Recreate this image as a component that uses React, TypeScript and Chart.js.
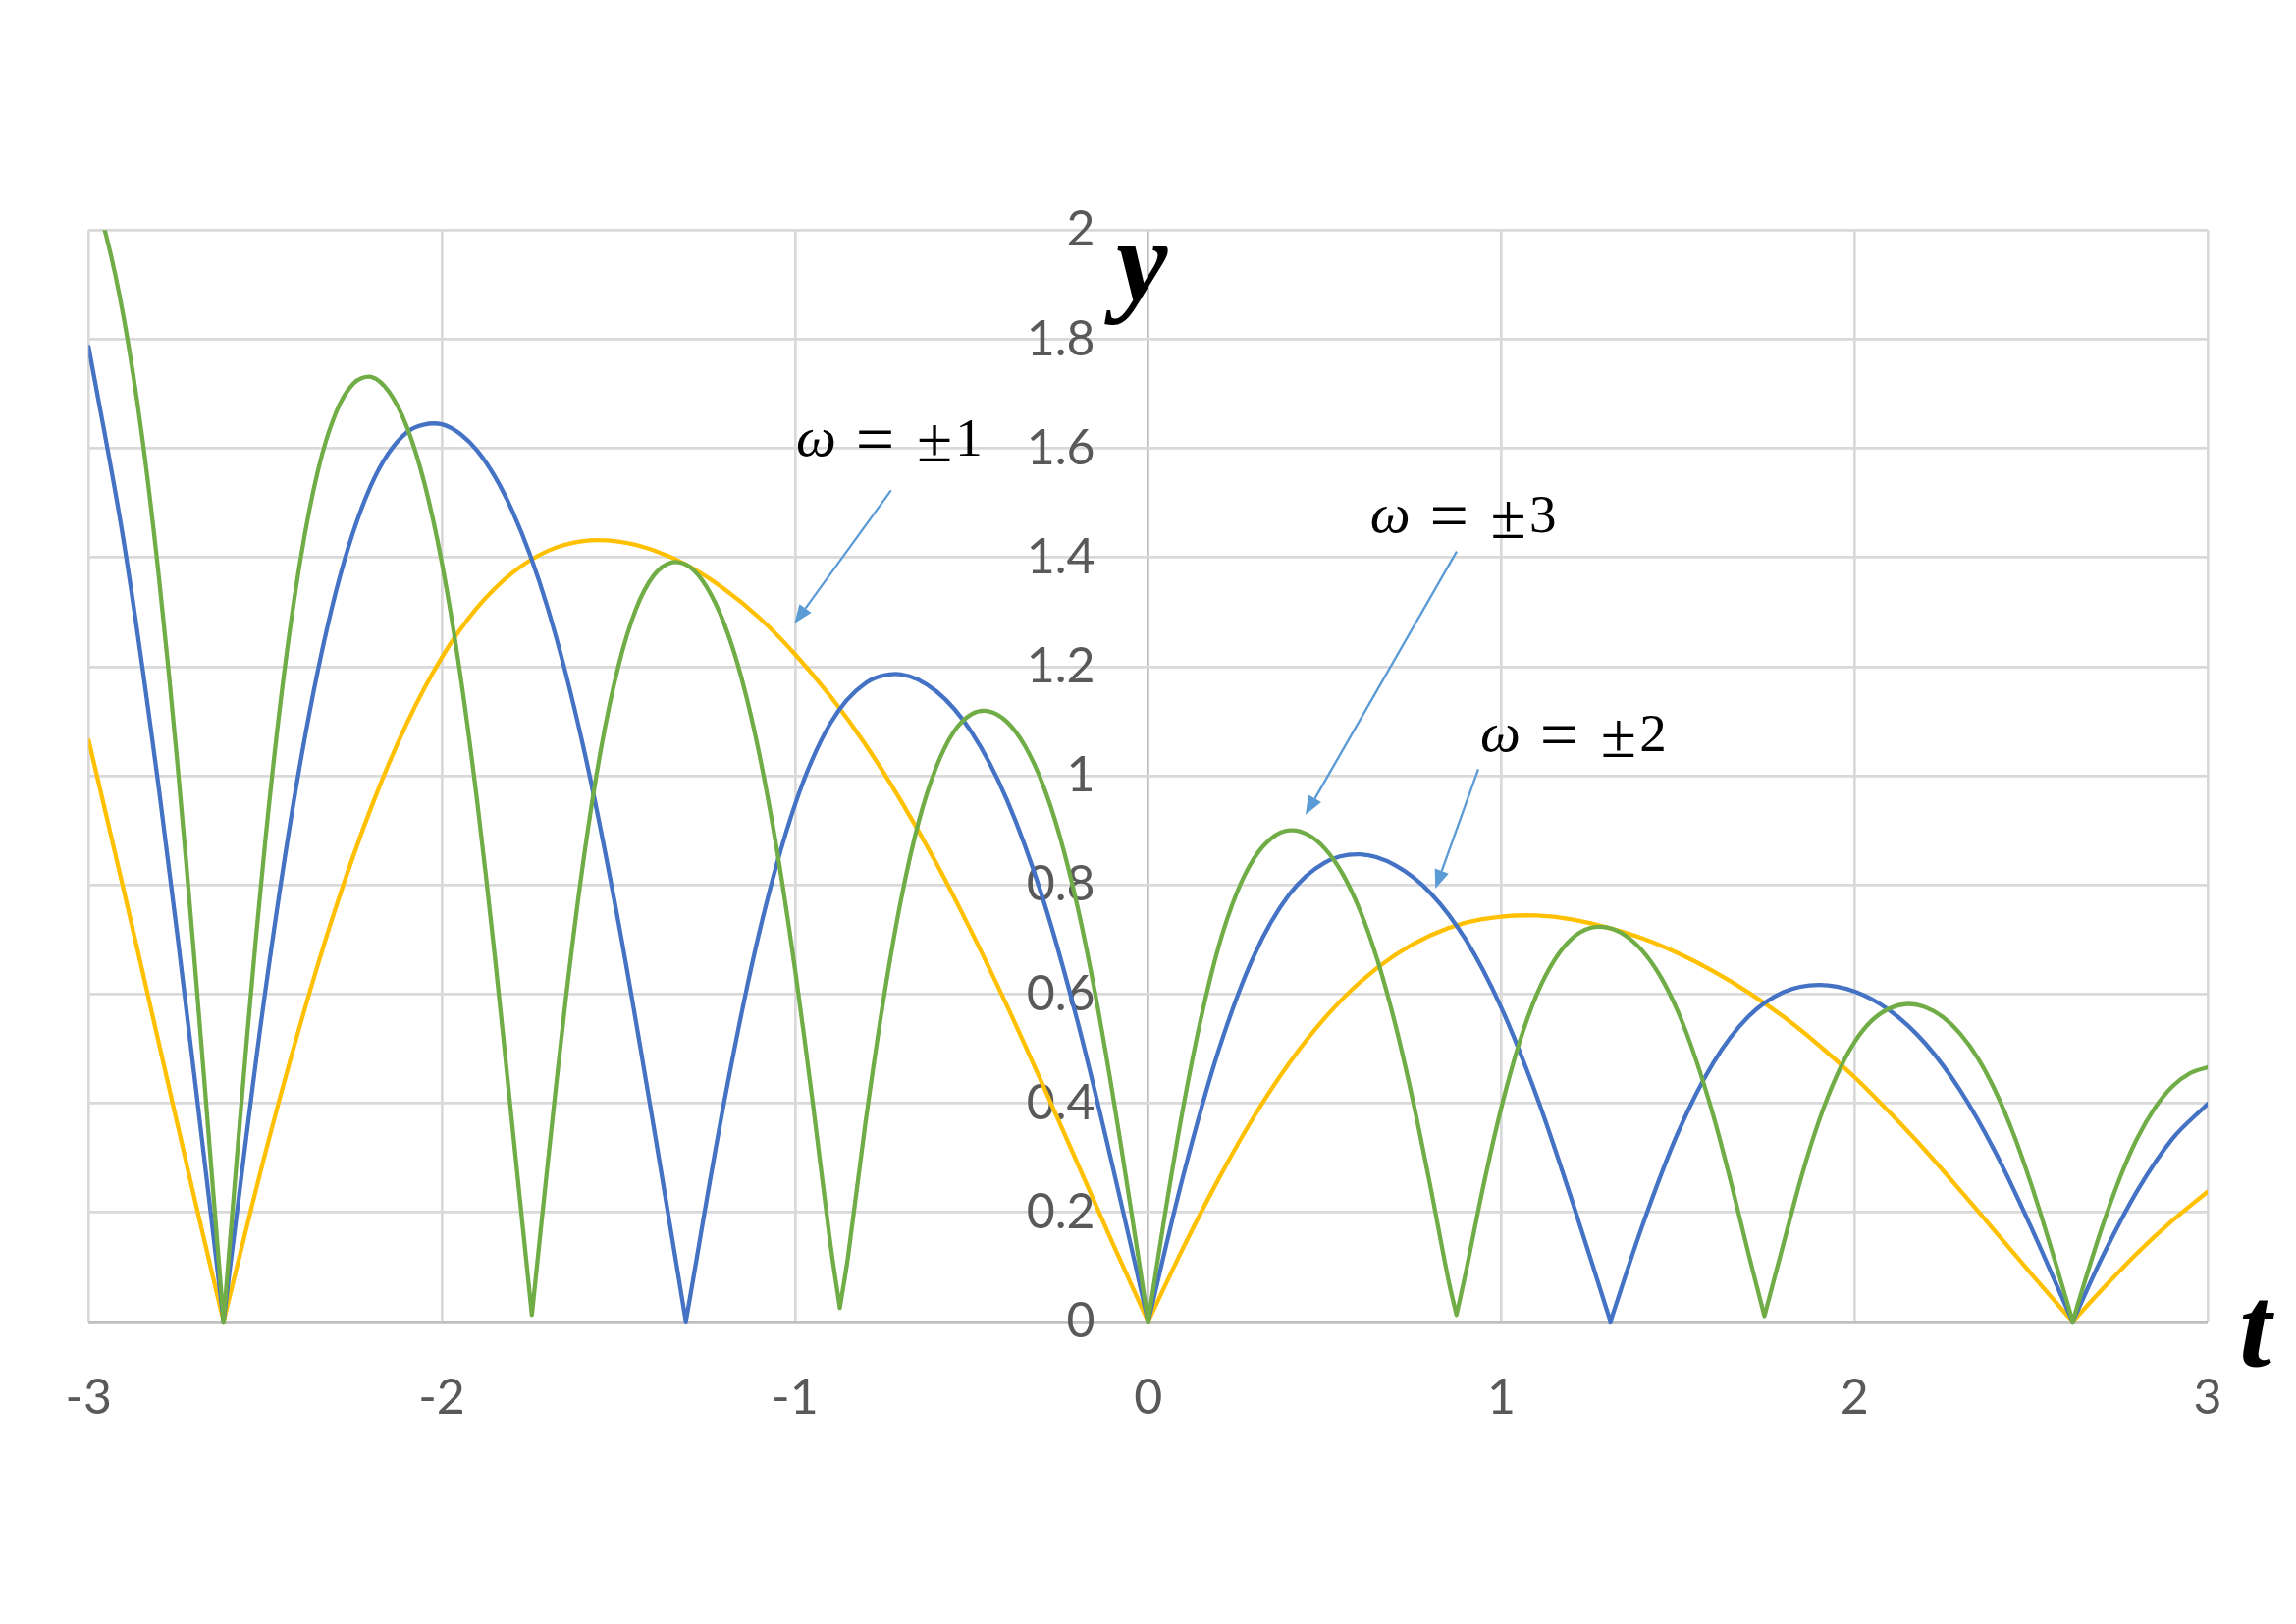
import React, { useEffect, useRef } from 'react';
import { Chart, registerables } from 'chart.js';

Chart.register(...registerables);

// ---- data ----
const T_COARSE = [
  -3, -2.9, -2.8, -2.7, -2.6, -2.5, -2.4, -2.3, -2.2, -2.1, -2, -1.9, -1.8, -1.7, -1.6, -1.5,
  -1.4, -1.3, -1.2, -1.1, -1, -0.9, -0.8, -0.7, -0.6, -0.5, -0.4, -0.3, -0.2, -0.1, 0,
  0.1, 0.2, 0.3, 0.4, 0.5, 0.6, 0.7, 0.8, 0.9, 1, 1.1, 1.2, 1.3, 1.4, 1.5, 1.6, 1.7, 1.8,
  1.9, 2, 2.1, 2.2, 2.3, 2.4, 2.5, 2.6, 2.7, 2.8, 2.9, 3,
];

const T_FINE = [
  -3, -2.95, -2.9, -2.85, -2.8, -2.75, -2.7, -2.65, -2.6, -2.55, -2.5, -2.45, -2.4, -2.35,
  -2.3, -2.25, -2.2, -2.15, -2.1, -2.05, -2, -1.95, -1.9, -1.85, -1.8, -1.75, -1.7, -1.65,
  -1.6, -1.55, -1.5, -1.45, -1.4, -1.35, -1.3, -1.25, -1.2, -1.15, -1.1, -1.05, -1, -0.95,
  -0.9, -0.85, -0.8, -0.75, -0.7, -0.65, -0.6, -0.55, -0.5, -0.45, -0.4, -0.35, -0.3, -0.25,
  -0.2, -0.15, -0.1, -0.05, 0, 0.05, 0.1, 0.15, 0.2, 0.25, 0.3, 0.35, 0.4, 0.45, 0.5, 0.55,
  0.6, 0.65, 0.7, 0.75, 0.8, 0.85, 0.9, 0.95, 1, 1.05, 1.1, 1.15, 1.2, 1.25, 1.3, 1.35, 1.4,
  1.45, 1.5, 1.55, 1.6, 1.65, 1.7, 1.75, 1.8, 1.85, 1.9, 1.95, 2, 2.05, 2.1, 2.15, 2.2, 2.25,
  2.3, 2.35, 2.4, 2.45, 2.5, 2.55, 2.6, 2.65, 2.7, 2.75, 2.8, 2.85, 2.9, 2.95, 3,
];

// omega = ±1 (yellow), on T_COARSE
const Y_OMEGA1 = [
  1.065, 0.789, 0.507, 0.225, 0.048, 0.308, 0.546, 0.759, 0.942, 1.095, 1.217, 1.308, 1.372,
  1.412, 1.43, 1.429, 1.413, 1.384, 1.342, 1.289, 1.223, 1.146, 1.057, 0.954, 0.84, 0.714,
  0.579, 0.436, 0.29, 0.143, 0, 0.136, 0.262, 0.376, 0.474, 0.556, 0.622, 0.672, 0.708,
  0.731, 0.742, 0.744, 0.737, 0.722, 0.702, 0.675, 0.642, 0.603, 0.558, 0.506, 0.448, 0.383,
  0.314, 0.24, 0.164, 0.088, 0.013, 0.058, 0.125, 0.185, 0.238,
];

// omega = ±2 (blue), on T_COARSE
const Y_OMEGA2 = [
  1.786, 1.427, 0.971, 0.447, 0.097, 0.604, 1.026, 1.337, 1.533, 1.629, 1.644, 1.596, 1.485,
  1.307, 1.055, 0.732, 0.357, 0.035, 0.404, 0.716, 0.947, 1.096, 1.17, 1.186, 1.155, 1.08,
  0.956, 0.779, 0.55, 0.283, 0, 0.269, 0.498, 0.671, 0.783, 0.841, 0.856, 0.836, 0.785,
  0.699, 0.575, 0.413, 0.222, 0.018, 0.177, 0.346, 0.474, 0.559, 0.604, 0.617, 0.605, 0.57,
  0.51, 0.423, 0.309, 0.173, 0.026, 0.116, 0.239, 0.335, 0.399,
];

// omega = ±3 (green), on T_FINE
const Y_OMEGA3 = [
  2.09, 1.989, 1.837, 1.628, 1.358, 1.032, 0.66, 0.26, 0.145, 0.532, 0.879, 1.17, 1.397,
  1.561, 1.665, 1.719, 1.731, 1.704, 1.641, 1.538, 1.391, 1.196, 0.954, 0.67, 0.357, 0.031,
  0.29, 0.585, 0.84, 1.047, 1.201, 1.306, 1.367, 1.391, 1.384, 1.346, 1.278, 1.176, 1.037,
  0.86, 0.646, 0.403, 0.144, 0.118, 0.366, 0.587, 0.772, 0.915, 1.016, 1.081, 1.113, 1.118,
  1.099, 1.056, 0.987, 0.889, 0.76, 0.601, 0.415, 0.211, 0, 0.206, 0.395, 0.557, 0.688,
  0.784, 0.849, 0.886, 0.9, 0.893, 0.867, 0.821, 0.753, 0.661, 0.544, 0.404, 0.245, 0.077,
  0.092, 0.251, 0.392, 0.509, 0.599, 0.662, 0.702, 0.721, 0.722, 0.708, 0.679, 0.633, 0.568,
  0.482, 0.378, 0.256, 0.124, 0.013, 0.145, 0.266, 0.369, 0.451, 0.512, 0.552, 0.574, 0.582,
  0.576, 0.558, 0.527, 0.482, 0.421, 0.344, 0.252, 0.149, 0.04, 0.069, 0.171, 0.261, 0.335,
  0.391, 0.431, 0.455, 0.466,
];

// cusp (minimum) points of each curve: [t, y]
const CUSPS_OMEGA1 = [[-2.618, 0], [0, 0], [2.618, 0]];
const CUSPS_OMEGA2 = [[-2.618, 0], [-1.309, 0], [0, 0], [1.309, 0], [2.618, 0]];
const CUSPS_OMEGA3 = [
  [-2.618, 0], [-1.745, 0.012], [-0.873, 0.025], [0, 0], [0.873, 0.012], [1.745, 0.01], [2.618, 0],
];

const SERIES_LABELS = ['ω = ±1', 'ω = ±2', 'ω = ±3'];
const SERIES_DIGITS = ['1', '2', '3'];

// ---- annotation placement (data units) ----
const LABEL_POS = [
  { t: -0.994, v: 1.587 },
  { t: 0.943, v: 1.045 },
  { t: 0.631, v: 1.446 },
];
const ARROW_POS = [
  { from: [-0.728, 1.523], to: [-1.0015, 1.279] },
  { from: [0.9348, 1.0123], to: [0.8134, 0.7934] },
  { from: [0.8737, 1.411], to: [0.4457, 0.9287] },
];
const TITLE_Y_POS = { t: -0.018, v: 1.871 };
const TITLE_T_POS = { t: 3.135, v: -0.083 };

// ---- styles ----
const COLORS = { w1: '#FFC000', w2: '#4472C4', w3: '#70AD47' };
const GRID = '#D9D9D9';
const AXIS = '#BFBFBF';
const TICK_COLOR = '#595959';
const ARROW_COLOR = '#5B9BD5';
const TICK_FONT = { family: 'Lato', size: 50 };
const X_AXIS_H = 120;

function buildSeries(ts, ys, cusps) {
  const pts = [];
  ts.forEach((t, i) => {
    if (cusps.some((c) => Math.abs(c[0] - t) < 0.0105)) return;
    pts.push({ x: t, y: ys[i] });
  });
  cusps.forEach((c) => {
    pts.push({ x: c[0], y: c[1] });
    pts.push({ x: c[0], y: c[1] });
  });
  pts.sort((a, b) => a.x - b.x);
  return pts;
}

const fmt = (v) => String(Math.round(Number(v) * 10) / 10);

const annotationPlugin = {
  id: 'annotations',
  afterDraw(chart) {
    const { ctx } = chart;
    const xs = chart.scales.x;
    const ys = chart.scales.y;
    const px = (t) => xs.getPixelForValue(t);
    const py = (v) => ys.getPixelForValue(v);
    ctx.save();
    // arrows
    ARROW_POS.forEach((a) => {
      const x1 = px(a.from[0]);
      const y1 = py(a.from[1]);
      const x2 = px(a.to[0]);
      const y2 = py(a.to[1]);
      const ang = Math.atan2(y2 - y1, x2 - x1);
      const headLen = 19;
      const headHalf = 7.5;
      const bx = x2 - headLen * Math.cos(ang);
      const by = y2 - headLen * Math.sin(ang);
      ctx.strokeStyle = ARROW_COLOR;
      ctx.lineWidth = 2.3;
      ctx.beginPath();
      ctx.moveTo(x1, y1);
      ctx.lineTo(bx, by);
      ctx.stroke();
      ctx.fillStyle = ARROW_COLOR;
      ctx.beginPath();
      ctx.moveTo(x2, y2);
      ctx.lineTo(bx + headHalf * Math.sin(ang), by - headHalf * Math.cos(ang));
      ctx.lineTo(bx - headHalf * Math.sin(ang), by + headHalf * Math.cos(ang));
      ctx.closePath();
      ctx.fill();
    });
    // series labels  ω = ±n
    ctx.fillStyle = '#000';
    ctx.textBaseline = 'alphabetic';
    ctx.textAlign = 'center';
    LABEL_POS.forEach((p, i) => {
      const x0 = px(p.t);
      const base = py(p.v);
      ctx.font = 'italic 58px "Liberation Serif"';
      ctx.fillText('ω', x0 + 19.5, base);
      ctx.font = '70px "Liberation Serif"';
      ctx.fillText('=', x0 + 79.5, base + 7);
      ctx.font = '66px "Liberation Serif"';
      ctx.fillText('±', x0 + 140, base + 6);
      ctx.font = '55px "Liberation Serif"';
      ctx.fillText(SERIES_DIGITS[i], x0 + 175, base);
    });
    // axis titles
    ctx.font = 'italic bold 118px "Liberation Serif"';
    ctx.fillText('y', px(TITLE_Y_POS.t), py(TITLE_Y_POS.v));
    ctx.fillText('t', px(TITLE_T_POS.t), py(TITLE_T_POS.v));
    ctx.restore();
  },
};

export default function App() {
  const ref = useRef(null);
  useEffect(() => {
    const canvas = ref.current;
    if (!canvas) return;
    const lineBase = {
      borderWidth: 4.3,
      pointRadius: 0,
      tension: 0.33,
      fill: false,
      borderJoinStyle: 'round',
      borderCapStyle: 'round',
      clip: { left: 0, top: 0, right: 0, bottom: 6 },
    };
    const chart = new Chart(canvas, {
      type: 'line',
      data: {
        datasets: [
          { ...lineBase, label: SERIES_LABELS[2], data: buildSeries(T_FINE, Y_OMEGA3, CUSPS_OMEGA3), borderColor: COLORS.w3 },
          { ...lineBase, label: SERIES_LABELS[1], data: buildSeries(T_COARSE, Y_OMEGA2, CUSPS_OMEGA2), borderColor: COLORS.w2 },
          { ...lineBase, label: SERIES_LABELS[0], data: buildSeries(T_COARSE, Y_OMEGA1, CUSPS_OMEGA1), borderColor: COLORS.w1 },
        ],
      },
      options: {
        responsive: false,
        animation: false,
        devicePixelRatio: 1,
        events: [],
        layout: { padding: { left: 90.3, right: 90, top: 234.3, bottom: 1654 - 1346 - X_AXIS_H } },
        plugins: { legend: { display: false }, tooltip: { enabled: false } },
        scales: {
          x: {
            type: 'linear',
            position: 'bottom',
            min: -3,
            max: 3,
            afterFit: (s) => { s.height = X_AXIS_H; },
            ticks: { stepSize: 1, padding: 48, color: TICK_COLOR, font: TICK_FONT, callback: fmt, maxRotation: 0, autoSkip: false },
            grid: { drawTicks: false, lineWidth: 2.7, color: (c) => (c.tick && c.tick.value === 0 ? AXIS : GRID) },
            border: { display: false },
          },
          y: {
            type: 'linear',
            position: 'left',
            min: 0,
            max: 2,
            ticks: { display: false, stepSize: 0.2 },
            grid: { drawTicks: false, lineWidth: 2.7, color: (c) => (c.tick && Math.abs(c.tick.value) < 1e-9 ? AXIS : GRID) },
            border: { display: false },
          },
          yLabels: {
            type: 'linear',
            axis: 'y',
            position: { x: -0.1505 },
            min: 0,
            max: 2,
            ticks: { stepSize: 0.2, padding: 0, color: TICK_COLOR, font: TICK_FONT, callback: fmt, autoSkip: false },
            grid: { display: false, drawTicks: false },
            border: { display: false },
          },
        },
      },
      plugins: [annotationPlugin],
    });
    return () => chart.destroy();
  }, []);
  return (
    <div style={{ position: 'fixed', left: 0, top: 0, width: 2339, height: 1654, background: '#fff' }}>
      <canvas ref={ref} width={2339} height={1654} style={{ display: 'block' }} />
    </div>
  );
}
